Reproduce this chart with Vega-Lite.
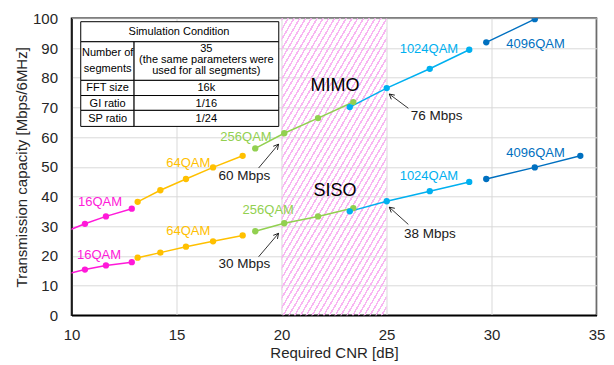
{
  "$schema": "https://vega.github.io/schema/vega-lite/v6.json",
  "width": 525,
  "height": 297,
  "autosize": {"type": "none"},
  "padding": {"left": 71.5, "top": 18.3, "right": 17.5, "bottom": 49.7},
  "background": "#ffffff",
  "config": {
    "font": "Liberation Sans",
    "view": {"stroke": "#000000", "strokeWidth": 1.5},
    "text": {"fontWeight": "normal"},
    "axis": {
      "grid": true,
      "gridColor": "#d9d9d9",
      "gridWidth": 1,
      "ticks": false,
      "tickSize": 0,
      "domainColor": "#000000",
      "domainWidth": 1.5,
      "labelFont": "Liberation Sans",
      "labelFontSize": 15,
      "labelColor": "#262626",
      "labelFlush": false,
      "titleFont": "Liberation Sans",
      "titleFontSize": 15,
      "titleFontWeight": "normal",
      "titleColor": "#262626"
    }
  },
  "datasets": {
    "series": [
      {"mode": "MIMO", "mod": "16QAM", "x": 9.6, "y": 27.9},
      {"mode": "MIMO", "mod": "16QAM", "x": 10.64, "y": 30.8},
      {"mode": "MIMO", "mod": "16QAM", "x": 11.64, "y": 33.3},
      {"mode": "MIMO", "mod": "16QAM", "x": 12.87, "y": 35.9},
      {"mode": "MIMO", "mod": "64QAM", "x": 13.15, "y": 38.2},
      {"mode": "MIMO", "mod": "64QAM", "x": 14.23, "y": 42.1},
      {"mode": "MIMO", "mod": "64QAM", "x": 15.45, "y": 45.9},
      {"mode": "MIMO", "mod": "64QAM", "x": 16.74, "y": 49.8},
      {"mode": "MIMO", "mod": "64QAM", "x": 18.15, "y": 53.7},
      {"mode": "MIMO", "mod": "256QAM", "x": 18.75, "y": 56.2},
      {"mode": "MIMO", "mod": "256QAM", "x": 20.13, "y": 61.3},
      {"mode": "MIMO", "mod": "256QAM", "x": 21.74, "y": 66.4},
      {"mode": "MIMO", "mod": "256QAM", "x": 23.42, "y": 71.8},
      {"mode": "MIMO", "mod": "1024QAM", "x": 23.25, "y": 70.1},
      {"mode": "MIMO", "mod": "1024QAM", "x": 25.01, "y": 76.5},
      {"mode": "MIMO", "mod": "1024QAM", "x": 27.06, "y": 83.0},
      {"mode": "MIMO", "mod": "1024QAM", "x": 28.94, "y": 89.4},
      {"mode": "MIMO", "mod": "4096QAM", "x": 29.75, "y": 91.9},
      {"mode": "MIMO", "mod": "4096QAM", "x": 32.06, "y": 99.7},
      {"mode": "MIMO", "mod": "4096QAM", "x": 34.23, "y": 107.4},
      {"mode": "SISO", "mod": "16QAM", "x": 9.6, "y": 13.6},
      {"mode": "SISO", "mod": "16QAM", "x": 10.64, "y": 15.4},
      {"mode": "SISO", "mod": "16QAM", "x": 11.64, "y": 16.8},
      {"mode": "SISO", "mod": "16QAM", "x": 12.87, "y": 17.9},
      {"mode": "SISO", "mod": "64QAM", "x": 13.15, "y": 19.4},
      {"mode": "SISO", "mod": "64QAM", "x": 14.23, "y": 21.1},
      {"mode": "SISO", "mod": "64QAM", "x": 15.45, "y": 23.1},
      {"mode": "SISO", "mod": "64QAM", "x": 16.74, "y": 24.9},
      {"mode": "SISO", "mod": "64QAM", "x": 18.15, "y": 26.9},
      {"mode": "SISO", "mod": "256QAM", "x": 18.75, "y": 28.3},
      {"mode": "SISO", "mod": "256QAM", "x": 20.13, "y": 31.0},
      {"mode": "SISO", "mod": "256QAM", "x": 21.74, "y": 33.3},
      {"mode": "SISO", "mod": "256QAM", "x": 23.42, "y": 36.1},
      {"mode": "SISO", "mod": "1024QAM", "x": 23.25, "y": 35.0},
      {"mode": "SISO", "mod": "1024QAM", "x": 25.01, "y": 38.4},
      {"mode": "SISO", "mod": "1024QAM", "x": 27.06, "y": 41.8},
      {"mode": "SISO", "mod": "1024QAM", "x": 28.94, "y": 44.9},
      {"mode": "SISO", "mod": "4096QAM", "x": 29.75, "y": 45.9},
      {"mode": "SISO", "mod": "4096QAM", "x": 32.06, "y": 49.8},
      {"mode": "SISO", "mod": "4096QAM", "x": 34.23, "y": 53.7}
    ],
    "modLabels": [
      {"mode": "MIMO", "mod": "16QAM", "x": 11.36, "y": 38.0},
      {"mode": "SISO", "mod": "16QAM", "x": 11.31, "y": 20.2},
      {"mode": "MIMO", "mod": "64QAM", "x": 15.56, "y": 51.4},
      {"mode": "SISO", "mod": "64QAM", "x": 15.56, "y": 28.3},
      {"mode": "MIMO", "mod": "256QAM", "x": 18.31, "y": 59.9},
      {"mode": "SISO", "mod": "256QAM", "x": 19.37, "y": 35.5},
      {"mode": "MIMO", "mod": "1024QAM", "x": 27.02, "y": 89.6},
      {"mode": "SISO", "mod": "1024QAM", "x": 27.02, "y": 46.8},
      {"mode": "MIMO", "mod": "4096QAM", "x": 32.1, "y": 91.2},
      {"mode": "SISO", "mod": "4096QAM", "x": 32.1, "y": 54.7}
    ],
    "modeTags": [
      {"text": "MIMO", "x": 22.55, "y": 77.2},
      {"text": "SISO", "x": 22.55, "y": 41.9}
    ],
    "rates": [
      {"text": "60 Mbps", "x": 18.23, "y": 46.9},
      {"text": "30 Mbps", "x": 18.23, "y": 17.2},
      {"text": "76 Mbps", "x": 27.39, "y": 67.1},
      {"text": "38 Mbps", "x": 27.07, "y": 27.3}
    ],
    "arrows": [
      {"x": 19.86, "y": 57.6, "x2": 18.91, "y2": 49.6},
      {"x": 19.86, "y": 27.6, "x2": 18.91, "y2": 19.7},
      {"x": 25.13, "y": 74.5, "x2": 26.04, "y2": 69.7},
      {"x": 25.13, "y": 36.4, "x2": 26.04, "y2": 30.6}
    ],
    "cells": [
      {"x": 10.44, "x2": 19.87, "y": 92.1, "y2": 98.85},
      {"x": 10.44, "x2": 12.98, "y": 79.1, "y2": 92.1},
      {"x": 12.98, "x2": 19.87, "y": 79.1, "y2": 92.1},
      {"x": 10.44, "x2": 12.98, "y": 74.0, "y2": 79.1},
      {"x": 12.98, "x2": 19.87, "y": 74.0, "y2": 79.1},
      {"x": 10.44, "x2": 12.98, "y": 69.0, "y2": 74.0},
      {"x": 12.98, "x2": 19.87, "y": 69.0, "y2": 74.0},
      {"x": 10.44, "x2": 12.98, "y": 63.6, "y2": 69.0},
      {"x": 12.98, "x2": 19.87, "y": 63.6, "y2": 69.0}
    ],
    "cellText": [
      {"text": "Simulation Condition", "x": 15.12, "y": 95.5},
      {"text": "Number of", "x": 11.72, "y": 88.2},
      {"text": "segments", "x": 11.72, "y": 82.8},
      {"text": "35", "x": 16.42, "y": 89.7},
      {"text": "(the same parameters were", "x": 16.42, "y": 86.0},
      {"text": "used for all segments)", "x": 16.42, "y": 82.1},
      {"text": "FFT size", "x": 11.72, "y": 76.4},
      {"text": "16k", "x": 16.42, "y": 76.4},
      {"text": "GI ratio", "x": 11.72, "y": 71.3},
      {"text": "1/16", "x": 16.42, "y": 71.3},
      {"text": "SP ratio", "x": 11.72, "y": 66.1},
      {"text": "1/24", "x": 16.42, "y": 66.1}
    ]
  },
  "encoding": {
    "x": {
      "field": "x",
      "type": "quantitative",
      "title": "Required CNR [dB]",
      "scale": {"domain": [10, 35], "nice": false, "zero": false},
      "axis": {"values": [10, 15, 20, 25, 30, 35], "labelPadding": 12, "titlePadding": 3}
    },
    "y": {
      "field": "y",
      "type": "quantitative",
      "title": "Transmission capacity [Mbps/6MHz]",
      "scale": {"domain": [0, 100], "nice": false, "zero": false},
      "axis": {"values": [0, 10, 20, 30, 40, 50, 60, 70, 80, 90, 100], "labelPadding": 14, "titlePadding": 3}
    }
  },
  "layer": [
    {
      "data": {"values": [{"x": 20, "x2": 25, "y": 0, "y2": 100}]},
      "mark": {
        "type": "rect",
        "strokeWidth": 0,
        "fill": {
          "gradient": "linear",
          "x1": 0, "y1": 0, "x2": 0.713, "y2": 1.175,
          "stops": [
            {"offset": 0, "color": "#f8b6f2"}, {"offset": 0.0063, "color": "#f8b6f2"}, {"offset": 0.0063, "color": "transparent"}, {"offset": 0.0208, "color": "transparent"},
            {"offset": 0.0208, "color": "#f8b6f2"}, {"offset": 0.0271, "color": "#f8b6f2"}, {"offset": 0.0271, "color": "transparent"}, {"offset": 0.0417, "color": "transparent"},
            {"offset": 0.0417, "color": "#f8b6f2"}, {"offset": 0.0479, "color": "#f8b6f2"}, {"offset": 0.0479, "color": "transparent"}, {"offset": 0.0625, "color": "transparent"},
            {"offset": 0.0625, "color": "#f8b6f2"}, {"offset": 0.0688, "color": "#f8b6f2"}, {"offset": 0.0688, "color": "transparent"}, {"offset": 0.0833, "color": "transparent"},
            {"offset": 0.0833, "color": "#f8b6f2"}, {"offset": 0.0896, "color": "#f8b6f2"}, {"offset": 0.0896, "color": "transparent"}, {"offset": 0.1042, "color": "transparent"},
            {"offset": 0.1042, "color": "#f8b6f2"}, {"offset": 0.1104, "color": "#f8b6f2"}, {"offset": 0.1104, "color": "transparent"}, {"offset": 0.125, "color": "transparent"},
            {"offset": 0.125, "color": "#f8b6f2"}, {"offset": 0.1313, "color": "#f8b6f2"}, {"offset": 0.1313, "color": "transparent"}, {"offset": 0.1458, "color": "transparent"},
            {"offset": 0.1458, "color": "#f8b6f2"}, {"offset": 0.1521, "color": "#f8b6f2"}, {"offset": 0.1521, "color": "transparent"}, {"offset": 0.1667, "color": "transparent"},
            {"offset": 0.1667, "color": "#f8b6f2"}, {"offset": 0.1729, "color": "#f8b6f2"}, {"offset": 0.1729, "color": "transparent"}, {"offset": 0.1875, "color": "transparent"},
            {"offset": 0.1875, "color": "#f8b6f2"}, {"offset": 0.1938, "color": "#f8b6f2"}, {"offset": 0.1938, "color": "transparent"}, {"offset": 0.2083, "color": "transparent"},
            {"offset": 0.2083, "color": "#f8b6f2"}, {"offset": 0.2146, "color": "#f8b6f2"}, {"offset": 0.2146, "color": "transparent"}, {"offset": 0.2292, "color": "transparent"},
            {"offset": 0.2292, "color": "#f8b6f2"}, {"offset": 0.2354, "color": "#f8b6f2"}, {"offset": 0.2354, "color": "transparent"}, {"offset": 0.25, "color": "transparent"},
            {"offset": 0.25, "color": "#f8b6f2"}, {"offset": 0.2563, "color": "#f8b6f2"}, {"offset": 0.2563, "color": "transparent"}, {"offset": 0.2708, "color": "transparent"},
            {"offset": 0.2708, "color": "#f8b6f2"}, {"offset": 0.2771, "color": "#f8b6f2"}, {"offset": 0.2771, "color": "transparent"}, {"offset": 0.2917, "color": "transparent"},
            {"offset": 0.2917, "color": "#f8b6f2"}, {"offset": 0.2979, "color": "#f8b6f2"}, {"offset": 0.2979, "color": "transparent"}, {"offset": 0.3125, "color": "transparent"},
            {"offset": 0.3125, "color": "#f8b6f2"}, {"offset": 0.3188, "color": "#f8b6f2"}, {"offset": 0.3188, "color": "transparent"}, {"offset": 0.3333, "color": "transparent"},
            {"offset": 0.3333, "color": "#f8b6f2"}, {"offset": 0.3396, "color": "#f8b6f2"}, {"offset": 0.3396, "color": "transparent"}, {"offset": 0.3542, "color": "transparent"},
            {"offset": 0.3542, "color": "#f8b6f2"}, {"offset": 0.3604, "color": "#f8b6f2"}, {"offset": 0.3604, "color": "transparent"}, {"offset": 0.375, "color": "transparent"},
            {"offset": 0.375, "color": "#f8b6f2"}, {"offset": 0.3813, "color": "#f8b6f2"}, {"offset": 0.3813, "color": "transparent"}, {"offset": 0.3958, "color": "transparent"},
            {"offset": 0.3958, "color": "#f8b6f2"}, {"offset": 0.4021, "color": "#f8b6f2"}, {"offset": 0.4021, "color": "transparent"}, {"offset": 0.4167, "color": "transparent"},
            {"offset": 0.4167, "color": "#f8b6f2"}, {"offset": 0.4229, "color": "#f8b6f2"}, {"offset": 0.4229, "color": "transparent"}, {"offset": 0.4375, "color": "transparent"},
            {"offset": 0.4375, "color": "#f8b6f2"}, {"offset": 0.4438, "color": "#f8b6f2"}, {"offset": 0.4438, "color": "transparent"}, {"offset": 0.4583, "color": "transparent"},
            {"offset": 0.4583, "color": "#f8b6f2"}, {"offset": 0.4646, "color": "#f8b6f2"}, {"offset": 0.4646, "color": "transparent"}, {"offset": 0.4792, "color": "transparent"},
            {"offset": 0.4792, "color": "#f8b6f2"}, {"offset": 0.4854, "color": "#f8b6f2"}, {"offset": 0.4854, "color": "transparent"}, {"offset": 0.5, "color": "transparent"},
            {"offset": 0.5, "color": "#f8b6f2"}, {"offset": 0.5063, "color": "#f8b6f2"}, {"offset": 0.5063, "color": "transparent"}, {"offset": 0.5208, "color": "transparent"},
            {"offset": 0.5208, "color": "#f8b6f2"}, {"offset": 0.5271, "color": "#f8b6f2"}, {"offset": 0.5271, "color": "transparent"}, {"offset": 0.5417, "color": "transparent"},
            {"offset": 0.5417, "color": "#f8b6f2"}, {"offset": 0.5479, "color": "#f8b6f2"}, {"offset": 0.5479, "color": "transparent"}, {"offset": 0.5625, "color": "transparent"},
            {"offset": 0.5625, "color": "#f8b6f2"}, {"offset": 0.5688, "color": "#f8b6f2"}, {"offset": 0.5688, "color": "transparent"}, {"offset": 0.5833, "color": "transparent"},
            {"offset": 0.5833, "color": "#f8b6f2"}, {"offset": 0.5896, "color": "#f8b6f2"}, {"offset": 0.5896, "color": "transparent"}, {"offset": 0.6042, "color": "transparent"},
            {"offset": 0.6042, "color": "#f8b6f2"}, {"offset": 0.6104, "color": "#f8b6f2"}, {"offset": 0.6104, "color": "transparent"}, {"offset": 0.625, "color": "transparent"},
            {"offset": 0.625, "color": "#f8b6f2"}, {"offset": 0.6313, "color": "#f8b6f2"}, {"offset": 0.6313, "color": "transparent"}, {"offset": 0.6458, "color": "transparent"},
            {"offset": 0.6458, "color": "#f8b6f2"}, {"offset": 0.6521, "color": "#f8b6f2"}, {"offset": 0.6521, "color": "transparent"}, {"offset": 0.6667, "color": "transparent"},
            {"offset": 0.6667, "color": "#f8b6f2"}, {"offset": 0.6729, "color": "#f8b6f2"}, {"offset": 0.6729, "color": "transparent"}, {"offset": 0.6875, "color": "transparent"},
            {"offset": 0.6875, "color": "#f8b6f2"}, {"offset": 0.6938, "color": "#f8b6f2"}, {"offset": 0.6938, "color": "transparent"}, {"offset": 0.7083, "color": "transparent"},
            {"offset": 0.7083, "color": "#f8b6f2"}, {"offset": 0.7146, "color": "#f8b6f2"}, {"offset": 0.7146, "color": "transparent"}, {"offset": 0.7292, "color": "transparent"},
            {"offset": 0.7292, "color": "#f8b6f2"}, {"offset": 0.7354, "color": "#f8b6f2"}, {"offset": 0.7354, "color": "transparent"}, {"offset": 0.75, "color": "transparent"},
            {"offset": 0.75, "color": "#f8b6f2"}, {"offset": 0.7563, "color": "#f8b6f2"}, {"offset": 0.7563, "color": "transparent"}, {"offset": 0.7708, "color": "transparent"},
            {"offset": 0.7708, "color": "#f8b6f2"}, {"offset": 0.7771, "color": "#f8b6f2"}, {"offset": 0.7771, "color": "transparent"}, {"offset": 0.7917, "color": "transparent"},
            {"offset": 0.7917, "color": "#f8b6f2"}, {"offset": 0.7979, "color": "#f8b6f2"}, {"offset": 0.7979, "color": "transparent"}, {"offset": 0.8125, "color": "transparent"},
            {"offset": 0.8125, "color": "#f8b6f2"}, {"offset": 0.8188, "color": "#f8b6f2"}, {"offset": 0.8188, "color": "transparent"}, {"offset": 0.8333, "color": "transparent"},
            {"offset": 0.8333, "color": "#f8b6f2"}, {"offset": 0.8396, "color": "#f8b6f2"}, {"offset": 0.8396, "color": "transparent"}, {"offset": 0.8542, "color": "transparent"},
            {"offset": 0.8542, "color": "#f8b6f2"}, {"offset": 0.8604, "color": "#f8b6f2"}, {"offset": 0.8604, "color": "transparent"}, {"offset": 0.875, "color": "transparent"},
            {"offset": 0.875, "color": "#f8b6f2"}, {"offset": 0.8813, "color": "#f8b6f2"}, {"offset": 0.8813, "color": "transparent"}, {"offset": 0.8958, "color": "transparent"},
            {"offset": 0.8958, "color": "#f8b6f2"}, {"offset": 0.9021, "color": "#f8b6f2"}, {"offset": 0.9021, "color": "transparent"}, {"offset": 0.9167, "color": "transparent"},
            {"offset": 0.9167, "color": "#f8b6f2"}, {"offset": 0.9229, "color": "#f8b6f2"}, {"offset": 0.9229, "color": "transparent"}, {"offset": 0.9375, "color": "transparent"},
            {"offset": 0.9375, "color": "#f8b6f2"}, {"offset": 0.9438, "color": "#f8b6f2"}, {"offset": 0.9438, "color": "transparent"}, {"offset": 0.9583, "color": "transparent"},
            {"offset": 0.9583, "color": "#f8b6f2"}, {"offset": 0.9646, "color": "#f8b6f2"}, {"offset": 0.9646, "color": "transparent"}, {"offset": 0.9792, "color": "transparent"},
            {"offset": 0.9792, "color": "#f8b6f2"}, {"offset": 0.9854, "color": "#f8b6f2"}, {"offset": 0.9854, "color": "transparent"}, {"offset": 1, "color": "transparent"}
          ]
        }
      },
      "encoding": {
        "x2": {"field": "x2"},
        "y2": {"field": "y2"}
      }
    },
    {
      "data": {"name": "series"},
      "mark": {"type": "line", "strokeWidth": 1.5, "clip": true},
      "encoding": {
        "color": {
          "field": "mod",
          "type": "nominal",
          "legend": null,
          "scale": {
            "domain": ["16QAM", "64QAM", "256QAM", "1024QAM", "4096QAM"],
            "range": ["#ff19d9", "#ffc000", "#92d050", "#00b0f0", "#0070c0"]
          }
        },
        "detail": {"field": "mode"}
      }
    },
    {
      "data": {"name": "series"},
      "mark": {"type": "point", "filled": true, "size": 40, "opacity": 1, "clip": true},
      "encoding": {
        "color": {"field": "mod", "type": "nominal", "legend": null}
      }
    },
    {
      "data": {"name": "cells"},
      "mark": {"type": "rect", "fill": "#ffffff", "stroke": "#000000", "strokeWidth": 1},
      "encoding": {
        "x2": {"field": "x2"},
        "y2": {"field": "y2"}
      }
    },
    {
      "data": {"name": "cellText"},
      "mark": {"type": "text", "fontSize": 11, "fontWeight": "normal", "color": "#000000", "align": "center", "baseline": "middle"},
      "encoding": {"text": {"field": "text"}}
    },
    {
      "data": {"name": "modLabels"},
      "mark": {"type": "text", "fontSize": 13, "fontWeight": "normal", "align": "center", "baseline": "middle"},
      "encoding": {
        "text": {"field": "mod"},
        "color": {"field": "mod", "type": "nominal", "legend": null}
      }
    },
    {
      "data": {"name": "modeTags"},
      "mark": {"type": "text", "fontSize": 18, "fontWeight": "normal", "color": "#000000", "align": "center", "baseline": "middle"},
      "encoding": {"text": {"field": "text"}}
    },
    {
      "data": {"name": "rates"},
      "mark": {"type": "text", "fontSize": 13.5, "fontWeight": "normal", "color": "#1a1a1a", "align": "center", "baseline": "middle"},
      "encoding": {"text": {"field": "text"}}
    },
    {
      "data": {"name": "arrows"},
      "mark": {"type": "rule", "color": "#000000", "strokeWidth": 0.8},
      "encoding": {
        "x2": {"field": "x2"},
        "y2": {"field": "y2"}
      }
    },
    {
      "data": {"name": "arrows"},
      "mark": {
        "type": "point",
        "shape": "M-0.55,1L0,0L0.55,1",
        "filled": false,
        "color": "#000000",
        "strokeWidth": 0.8,
        "size": 100,
        "opacity": 1
      },
      "encoding": {
        "angle": {"condition": {"test": "datum.x2 < datum.x", "value": 40}, "value": 310}
      }
    }
  ]
}
